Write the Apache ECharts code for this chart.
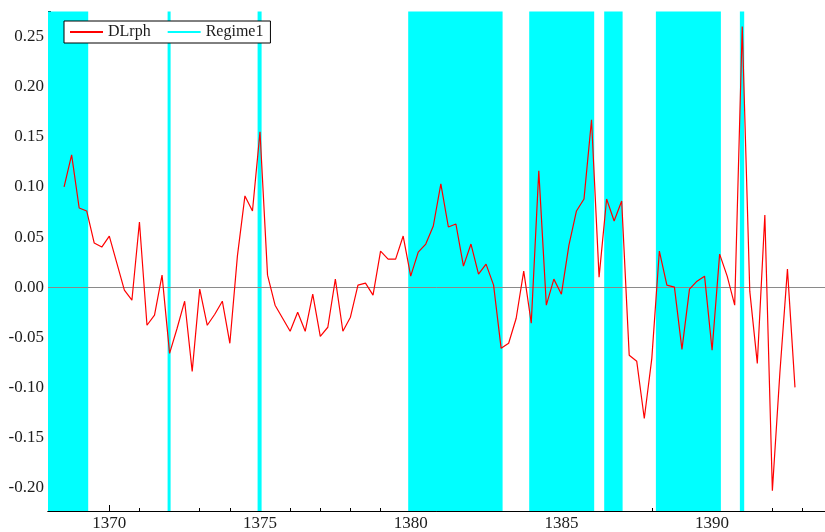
<!DOCTYPE html>
<html>
<head>
<meta charset="utf-8">
<title>DLrph and Regime1</title>
<script src="https://cdn.jsdelivr.net/npm/echarts@6/dist/echarts.min.js"></script>
<style>
  html, body { margin: 0; padding: 0; background: #ffffff; }
  #chart { width: 825px; height: 532px; }
</style>
</head>
<body>
<div id="chart"></div>
<script>
// Quarterly DLrph, first observation 1368 Q3
const firstYear = 1368;
const firstQuarter = 3;
const dlrph = [
  0.100, 0.132, 0.079, 0.076, 0.044, 0.040, 0.051, 0.024, -0.003, -0.013,
  0.065, -0.038, -0.028, 0.012, -0.066, -0.041, -0.014, -0.084, -0.002, -0.038,
  -0.027, -0.014, -0.056, 0.031, 0.091, 0.076, 0.155, 0.012, -0.018, -0.031,
  -0.044, -0.025, -0.044, -0.007, -0.049, -0.040, 0.008, -0.044, -0.030, 0.002,
  0.004, -0.008, 0.036, 0.028, 0.028, 0.051, 0.011, 0.035, 0.043, 0.061,
  0.103, 0.060, 0.063, 0.021, 0.043, 0.013, 0.023, 0.002, -0.061, -0.056,
  -0.031, 0.016, -0.036, 0.116, -0.018, 0.008, -0.007, 0.042, 0.076, 0.088,
  0.167, 0.010, 0.088, 0.066, 0.086, -0.068, -0.074, -0.131, -0.071, 0.036,
  0.002, 0.000, -0.062, -0.002, 0.006, 0.011, -0.063, 0.033, 0.011, -0.018,
  0.260, -0.004, -0.076, 0.072, -0.203, -0.085, 0.018, -0.100
];

// Periods classified as Regime 1 (start, end in years)
const regimeSpans = [
  [1367.966, 1369.300],
  [1371.934, 1372.034],
  [1374.920, 1375.053],
  [1379.917, 1383.049],
  [1383.932, 1386.088],
  [1386.420, 1387.031],
  [1388.135, 1390.292],
  [1390.922, 1391.065]
];

// Axis ranges and tick positions
const xRange = [1367.966, 1393.746];
const yRange = [-0.2233, 0.275];
const xMajorTicks = [1370, 1375, 1380, 1385, 1390];
const xMinorTicks = [1368, 1369, 1371, 1372, 1373, 1374, 1376, 1377, 1378, 1379,
  1381, 1382, 1383, 1384, 1386, 1387, 1388, 1389, 1391, 1392, 1393];
const yMajorTicks = [-0.20, -0.15, -0.10, -0.05, 0.00, 0.05, 0.10, 0.15, 0.20, 0.25];
const yMinorTicks = [-0.175, -0.125, -0.075, -0.025, 0.025, 0.075, 0.125, 0.175, 0.225, 0.275];

const seriesPoints = dlrph.map(function (v, i) {
  return [firstYear + (firstQuarter - 1 + i) / 4, v];
});

const FONT = 'Liberation Serif';
const TEXT = '#1c1c1c';

const chart = echarts.init(document.getElementById('chart'), null, { renderer: 'canvas' });

const baseX = {
  type: 'value',
  min: xRange[0],
  max: xRange[1],
  position: 'bottom',
  splitLine: { show: false },
  axisLine: { show: true, onZero: false, lineStyle: { color: '#000', width: 1 } }
};
const baseY = {
  type: 'value',
  min: yRange[0],
  max: yRange[1],
  position: 'left',
  splitLine: { show: false },
  axisLine: { show: true, onZero: false, lineStyle: { color: '#000', width: 1 } }
};

chart.setOption({
  animation: false,
  backgroundColor: '#ffffff',
  grid: { left: 48, right: 0, top: 11.5, bottom: 18.5 },
  legend: {
    left: 64,
    top: 21,
    orient: 'horizontal',
    backgroundColor: '#ffffff',
    borderColor: '#000000',
    borderWidth: 1,
    borderRadius: 0,
    padding: [3, 7, 3, 6],
    itemWidth: 33,
    itemHeight: 2,
    itemGap: 17,
    icon: 'rect',
    textStyle: { fontFamily: FONT, fontSize: 16, color: TEXT, lineHeight: 16 },
    data: ['DLrph', 'Regime1']
  },
  xAxis: [
    Object.assign({}, baseX, {
      axisTick: { show: true, inside: true, length: 6, customValues: xMajorTicks, lineStyle: { color: '#000' } },
      axisLabel: {
        show: true, customValues: xMajorTicks, margin: 4,
        fontFamily: FONT, fontSize: 17, color: TEXT,
        formatter: function (v) { return String(Math.round(v)); }
      }
    }),
    Object.assign({}, baseX, {
      axisTick: { show: true, inside: true, length: 3, customValues: xMinorTicks, lineStyle: { color: '#000' } },
      axisLabel: { show: false }
    })
  ],
  yAxis: [
    Object.assign({}, baseY, {
      axisTick: { show: true, inside: true, length: 6, customValues: yMajorTicks, lineStyle: { color: '#000' } },
      axisLabel: {
        show: true, customValues: yMajorTicks, margin: 4,
        fontFamily: FONT, fontSize: 17, color: TEXT,
        formatter: function (v) { return v.toFixed(2); }
      }
    }),
    Object.assign({}, baseY, {
      axisTick: { show: true, inside: true, length: 3, customValues: yMinorTicks, lineStyle: { color: '#000' } },
      axisLabel: { show: false }
    })
  ],
  series: [
    {
      name: 'Regime1',
      type: 'line',
      xAxisIndex: 0,
      yAxisIndex: 0,
      z: 1,
      symbol: 'none',
      silent: true,
      data: [],
      lineStyle: { color: '#00ffff', width: 2 },
      itemStyle: { color: '#00ffff' },
      markArea: {
        silent: true,
        itemStyle: { color: '#00ffff', opacity: 1 },
        data: regimeSpans.map(function (s) { return [{ xAxis: s[0] }, { xAxis: s[1] }]; })
      }
    },
    {
      name: 'DLrph',
      type: 'line',
      xAxisIndex: 0,
      yAxisIndex: 0,
      z: 3,
      symbol: 'none',
      silent: true,
      data: seriesPoints,
      lineStyle: { color: '#ff0000', width: 1.2 },
      itemStyle: { color: '#ff0000' },
      markLine: {
        silent: true,
        symbol: ['none', 'none'],
        label: { show: false },
        lineStyle: { color: '#8a8a8a', width: 1, type: 'solid' },
        z: 2,
        data: [{ yAxis: 0 }]
      }
    }
  ]
});
</script>
</body>
</html>
